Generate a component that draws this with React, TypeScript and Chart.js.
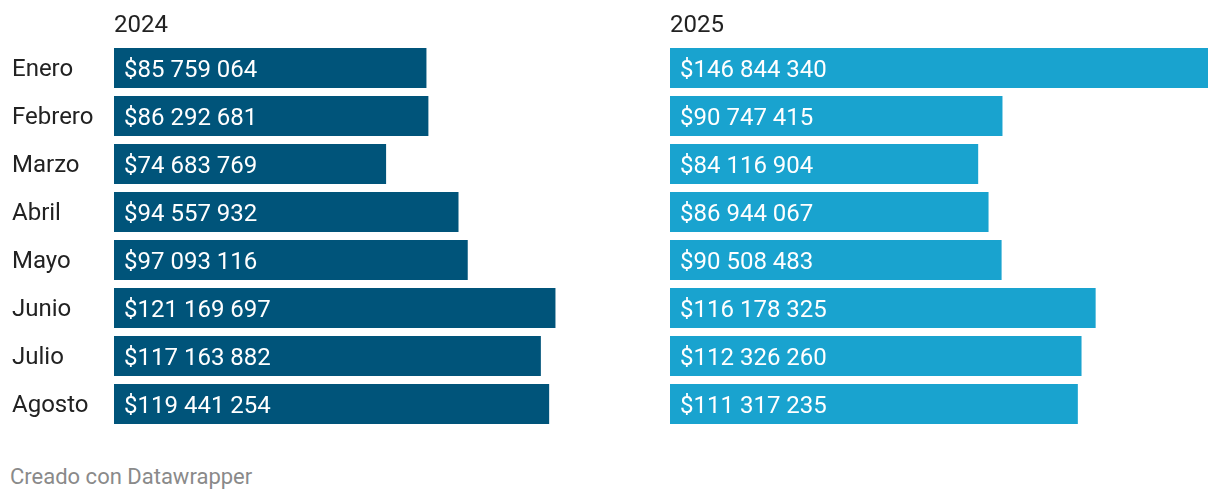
import React, { useEffect, useRef } from "react";
import { Chart, registerables } from "chart.js";

Chart.register(...registerables);

const months = ["Enero", "Febrero", "Marzo", "Abril", "Mayo", "Junio", "Julio", "Agosto"];
const values2024 = [85759064, 86292681, 74683769, 94557932, 97093116, 121169697, 117163882, 119441254];
const values2025 = [146844340, 90747415, 84116904, 86944067, 90508483, 116178325, 112326260, 111317235];
const panelTitles = ["2024", "2025"];
const footerText = "Creado con Datawrapper";

const FONT = "Roboto, 'Noto Sans', sans-serif";
const TEXT_COLOR = "#222222";
const FS = 24;

function fmt(v: number): string {
  const s = Math.round(v).toString();
  return "$" + s.replace(/\B(?=(\d{3})+(?!\d))/g, " ");
}

const maxValue = Math.max(...values2024, ...values2025);

function makeLabelPlugin(title: string) {
  return {
    id: "barLabels",
    afterDatasetsDraw(chart: any) {
      const ctx = chart.ctx;
      ctx.save();
      ctx.font = `${FS}px ${FONT}`;
      ctx.fillStyle = TEXT_COLOR;
      ctx.textAlign = "left";
      ctx.textBaseline = "alphabetic";
      ctx.fillText(title, chart.chartArea.left, 32);
      const meta = chart.getDatasetMeta(0);
      const data = chart.data.datasets[0].data as number[];
      ctx.fillStyle = "#ffffff";
      meta.data.forEach((bar: any, i: number) => {
        ctx.fillText(fmt(data[i]), bar.base + 10, bar.y + 8.5);
      });
      ctx.restore();
    },
  };
}

function BarPanel(props: {
  values: number[];
  color: string;
  title: string;
  showLabels: boolean;
  left: number;
  width: number;
  padLeft: number;
  padRight: number;
}) {
  const ref = useRef<HTMLCanvasElement | null>(null);
  const H = 440;
  useEffect(() => {
    if (!ref.current) return;
    const chart = new Chart(ref.current, {
      type: "bar",
      data: {
        labels: months,
        datasets: [
          {
            data: props.values,
            backgroundColor: props.color,
            borderWidth: 0,
            barPercentage: 40 / 48,
            categoryPercentage: 1,
          },
        ],
      },
      options: {
        indexAxis: "y",
        responsive: false,
        animation: false,
        layout: { padding: { left: props.padLeft, right: props.padRight, top: 44, bottom: H - 428 } },
        plugins: { legend: { display: false }, tooltip: { enabled: false }, title: { display: false } },
        scales: {
          x: { display: false, min: 0, max: maxValue },
          y: {
            display: props.showLabels,
            grid: { display: false },
            border: { display: false },
            ticks: {
              crossAlign: "far",
              color: TEXT_COLOR,
              font: { family: FONT, size: FS },
              padding: 0,
              labelOffset: 2,
            },
            afterFit: (scale: any) => {
              scale.width = props.showLabels ? 102 : 0;
              scale.paddingTop = 0;
              scale.paddingBottom = 0;
            },
          },
        },
      } as any,
      plugins: [makeLabelPlugin(props.title)],
    });
    return () => chart.destroy();
  }, []);
  return (
    <canvas
      ref={ref}
      width={props.width}
      height={H}
      style={{ position: "absolute", left: props.left, top: 0, width: props.width, height: H }}
    />
  );
}

export default function App() {
  return (
    <div style={{ position: "fixed", left: 0, top: 0, width: 1220, height: 500, background: "#ffffff", overflow: "hidden" }}>
      <BarPanel values={values2024} color="#00547a" title={panelTitles[0]} showLabels={true} left={0} width={660} padLeft={12} padRight={11} />
      <BarPanel values={values2025} color="#19a3cf" title={panelTitles[1]} showLabels={false} left={660} width={560} padLeft={10} padRight={12} />
      <div
        style={{
          position: "absolute",
          left: 10,
          top: 466,
          fontFamily: FONT,
          fontSize: 22,
          lineHeight: "22px",
          color: "#8a8a8a",
          whiteSpace: "nowrap",
        }}
      >
        {footerText}
      </div>
    </div>
  );
}
